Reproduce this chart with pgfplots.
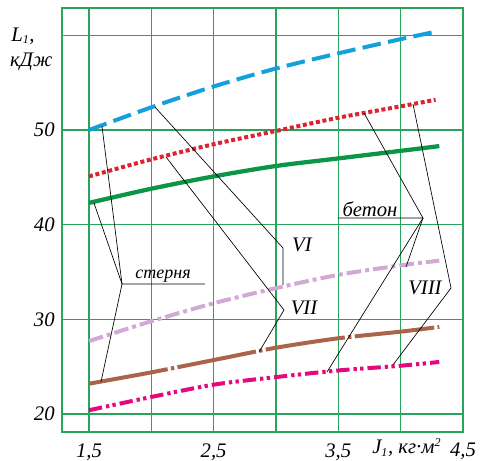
\documentclass[border=0pt]{standalone}
\usepackage{fontspec}
\setmainfont{Liberation Serif}
\usepackage{pgfplots}
\pgfplotsset{compat=1.18}

\definecolor{gridgreen}{RGB}{40,165,90}
\definecolor{cblue}{RGB}{20,160,220}
\definecolor{cred}{RGB}{220,35,50}
\definecolor{cgreen}{RGB}{10,150,70}
\definecolor{clilac}{RGB}{210,168,212}
\definecolor{cbrown}{RGB}{170,100,75}
\definecolor{cmag}{RGB}{228,10,125}

\newcommand{\lbl}{\fontsize{15.5}{18}\selectfont\itshape}
\newcommand{\cyr}{\fontsize{13.5}{16}\selectfont\itshape}

\begin{document}
\begin{tikzpicture}
\useasboundingbox (0,0) rectangle (360pt,345.75pt);
\begin{axis}[
  at={(46.5pt,21.75pt)}, anchor=south west,
  width=300.75pt, height=318pt, scale only axis,
  xmin=1.2835, xmax=4.5, ymin=18.1, ymax=62.89,
  axis line style={draw=gridgreen, line width=1.1pt},
  grid=major, major grid style={draw=gridgreen, line width=1pt},
  xtick={1.5,2,2.5,3,3.5,4,4.5},
  xticklabels={{1,5},{},{2,5},{},{3,5},{},{4,5}},
  ytick={20,30,40,50,60},
  yticklabels={20,30,40,50,{}},
  major tick length=0pt,
  tick label style={font=\lbl},
  xticklabel style={yshift=-5pt},
  yticklabel style={xshift=-2pt},
  clip=false,
]
% VI
\addplot[cblue, line width=3pt, dash pattern=on 14pt off 5.5pt, smooth]
  coordinates {(1.5,50.0) (2.0,52.4) (2.5,54.6) (3.0,56.5) (3.5,58.1) (4.0,59.6) (4.25,60.3)};
\addplot[cred, line width=3pt, dash pattern=on 3pt off 2pt, smooth]
  coordinates {(1.5,45.1) (2.0,46.9) (2.5,48.5) (3.0,49.9) (3.5,51.3) (4.0,52.5) (4.28,53.2)};
\addplot[cgreen, line width=3.2pt, smooth]
  coordinates {(1.5,42.3) (2.0,43.8) (2.5,45.1) (3.0,46.2) (3.5,47.0) (4.0,47.8) (4.31,48.3)};
\addplot[clilac, line width=3pt, dash pattern=on 11pt off 3pt on 3pt off 3pt, smooth]
  coordinates {(1.5,27.7) (2.0,29.8) (2.5,31.7) (3.0,33.3) (3.5,34.7) (4.0,35.7) (4.31,36.2)};
\addplot[cbrown, line width=3pt, dash pattern=on 60pt off 2.5pt on 2.5pt off 2.5pt, smooth]
  coordinates {(1.5,23.2) (2.0,24.4) (2.5,25.7) (3.0,27.0) (3.5,28.0) (4.0,28.7) (4.31,29.2)};
\addplot[cmag, line width=3pt, dash pattern=on 10pt off 3pt on 2.5pt off 2.5pt on 2.5pt off 3pt, smooth]
  coordinates {(1.5,20.4) (2.0,21.8) (2.5,23.1) (3.0,23.9) (3.5,24.6) (4.0,25.1) (4.31,25.5)};

% leader lines
\begin{scope}[black, line width=0.5pt]
  % стерня
  \draw (axis cs:2.43,33.73) -- (axis cs:1.765,33.73) -- (axis cs:1.604,50.42);
  \draw (axis cs:1.765,33.73) -- (axis cs:1.54,42.29);
  \draw (axis cs:1.765,33.73) -- (axis cs:1.596,23.38);
  % бетон
  \draw (axis cs:3.497,40.70) -- (axis cs:4.179,40.70) -- (axis cs:3.706,51.80);
  \draw (axis cs:4.179,40.70) -- (axis cs:4.043,35.53);
  \draw (axis cs:4.179,40.70) -- (axis cs:3.409,24.44);
  % VIII
  \draw (axis cs:4.099,52.75) -- (axis cs:4.404,33.31) -- (axis cs:3.938,25.18);
  % VI
  \draw (axis cs:2.029,52.43) -- (axis cs:3.056,37.54) -- (axis cs:3.056,33.63);
  % VII
  \draw (axis cs:2.118,47.15) -- (axis cs:3.064,30.99) -- (axis cs:2.864,26.55);
\end{scope}

\node[anchor=south, inner sep=1pt, font=\cyr] at (axis cs:2.094,33.73) {стерня};
\node[anchor=south, inner sep=1pt, font=\lbl] at (axis cs:3.754,40.70) {бетон};
\node[font=\lbl] at (axis cs:4.195,33.31) {VIII};
\node[font=\lbl] at (axis cs:3.208,37.85) {VI};
\node[font=\lbl] at (axis cs:3.225,31.2) {VII};

\node[anchor=west, inner sep=0pt, font=\lbl] at (axis cs:0.875,59.95) {L\textsubscript{\fontsize{9}{10}\selectfont 1},};
\node[anchor=west, inner sep=0pt, font=\lbl] at (axis cs:0.866,57.2) {кДж};
\node[anchor=west, inner sep=0pt, font=\lbl] at (axis cs:3.77,16.41) {J\textsubscript{\fontsize{9}{10}\selectfont 1}, кг·м\textsuperscript{\fontsize{9}{10}\selectfont 2}};
\end{axis}
\end{tikzpicture}
\end{document}
